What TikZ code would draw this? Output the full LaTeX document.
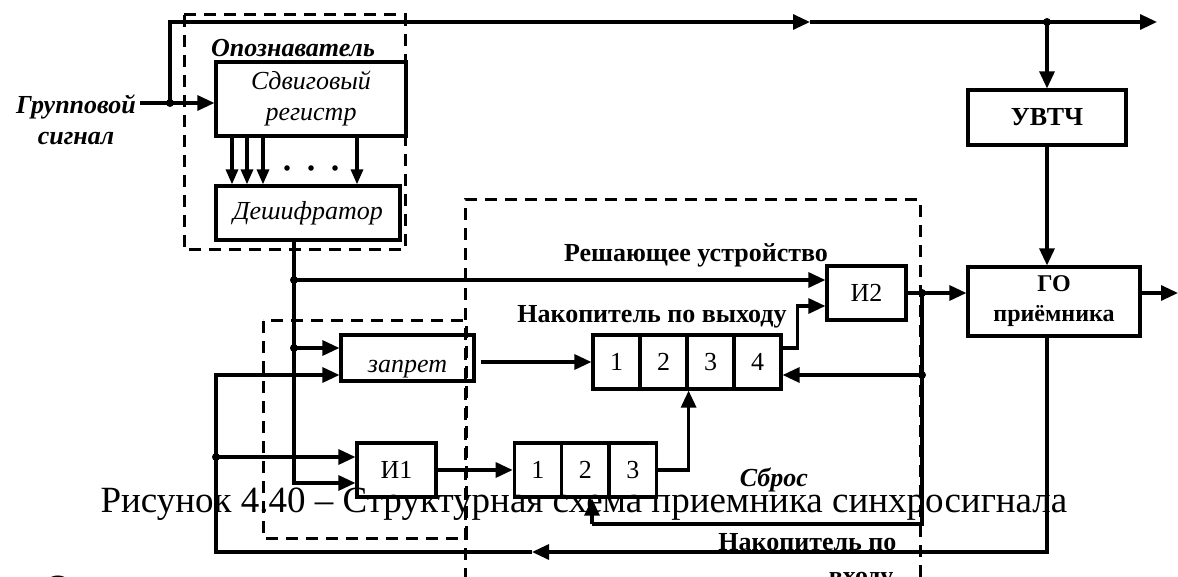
\documentclass[tikz,border=0pt]{standalone}
\usepackage{fontspec}
\setmainfont{Liberation Serif}
\usetikzlibrary{positioning, arrows.meta, calc}

\newcommand{\bsize}{\fontsize{26}{31}\selectfont}

\begin{document}
\begin{tikzpicture}[x=1pt, y=-1pt, line width=3.2pt,
    >={Triangle[length=17pt,width=15pt]},
    blk/.style={draw, inner sep=0pt, align=center, font=\bsize},
    cell/.style={blk, minimum width=47pt, minimum height=54pt},
    lbl/.style={inner sep=0pt, anchor=base, font=\bsize\bfseries},
    dashbox/.style={line width=3pt, dash pattern=on 12pt off 8pt}]

    \useasboundingbox (0,0) rectangle (1178,577);

    % ---------- caption ----------
    \node[inner sep=0pt, anchor=base, font=\fontsize{37}{44}\selectfont] (cap) at (584,512)
      {Рисунок 4.40 – Структурная схема приемника синхросигнала};
    \node[inner sep=0pt, anchor=base, font=\fontsize{37}{44}\selectfont] (nxt) at (58,600) {О};

    % ---------- blocks ----------
    \node[blk, minimum width=190pt, minimum height=74pt, font=\bsize\itshape] (reg) at (311,99)
      {Сдвиговый\\регистр};
    \node[blk, minimum width=184pt, minimum height=54pt, font=\bsize\itshape] (dec) at (308,213)
      {Дешифратор};
    \node[blk, minimum width=133pt, minimum height=46pt, font=\bsize\itshape,
          text height=37pt, text depth=9pt] (zap) at (407.5,358) {запрет};
    \node[blk, minimum width=79pt, minimum height=54pt] (i1) at (396.5,470) {И1};
    \node[blk, minimum width=79pt, minimum height=54pt] (i2) at (866.5,293) {И2};
    \node[blk, minimum width=158pt, minimum height=55pt, font=\bsize\bfseries] (uvtch) at (1047,117.5)
      {УВТЧ};
    \node[blk, minimum width=172pt, minimum height=69pt, font=\fontsize{24}{30}\selectfont\bfseries]
      (go) at (1054,301.5) {ГО\\приёмника};

    % ---------- shift registers (accumulators) ----------
    \foreach \i/\cx in {1/616.5,2/663.5,3/710.5,4/757.5}
      \node[cell] (out\i) at (\cx,362) {\i};
    \foreach \i/\cx in {1/537.75,2/585.25,3/632.75}
      \node[cell] (in\i) at (\cx,470) {\i};

    % ---------- labels ----------
    \node[lbl, font=\bsize\bfseries\itshape, align=center, anchor=north] (grp) at (76,93)
      {Групповой\\сигнал};
    \node[lbl, font=\bsize\bfseries\itshape] (opz) at (293,57) {Опознаватель};
    \node[lbl] (rsh) at (696,262) {Решающее устройство};
    \node[lbl] (nvy) at (652,323) {Накопитель по выходу};
    \node[lbl, font=\bsize\bfseries\itshape] (sbr) at (774,486) {Сброс};
    \node[lbl, anchor=base east] (nvh) at (898,550) {Накопитель по};
    \node[lbl, anchor=base east] (nvh2) at (895,584) {входу};

    % ---------- key points ----------
    \coordinate (gin) at (140,103);
    \coordinate (tap) at (170,103);
    \coordinate (mid) at (810,22);
    \coordinate (br) at (1047,22);
    \coordinate (bend) at (1157,22);
    \coordinate (d1) at (294,280);
    \coordinate (d2) at (294,348);
    \coordinate (lb) at (216,457);
    \coordinate (lc) at (216,552);
    \coordinate (ret) at (532,552);
    \coordinate (r1) at (922,293);
    \coordinate (r2) at (922,375);
    \coordinate (sb) at (592,524);
    \coordinate (gout) at (1178,293);

    % ---------- input and top bus ----------
    \draw[->] (gin) -- (gin -| reg.west);
    \draw[->] (tap) |- (mid);
    \draw[->] (mid) -- (bend);
    \draw[->] (br) -- (uvtch.north);
    \draw[->] (uvtch.south) -- (uvtch.south |- go.north);

    % ---------- register -> decoder ----------
    \foreach \x in {232,247,263,357}
      \draw[->, >={Triangle[length=15pt,width=12pt]}] (\x,0 |- reg.south) -- (\x,0 |- dec.north);
    \foreach \x in {287,311,335}
      \fill (\x,168) circle (2.8pt);

    % ---------- decoder output ----------
    \draw[->] (dec.south -| d1) |- ([yshift=-13pt]i1.west);
    \draw[->] (d1) -- (d1 -| i2.west);
    \draw[->] (d2) -- (d2 -| zap.west);

    % ---------- feedback from receiver ----------
    \draw[->] (go.south -| br) |- (ret);
    \draw[->] (ret) -- (lc) |- ([yshift=-17pt]zap.west);
    \draw[->] (lb) -- (lb -| i1.west);

    % ---------- accumulators ----------
    \draw[->] (i1.east) -- (in1.west);
    \draw[->] ([xshift=5pt]zap.east |- out1.west) -- (out1.west);
    \draw[->] (in3.east) -| (out2.south east);
    \draw[->] ([yshift=14pt]out4.east) -- ++(15,0) |- ([yshift=-13pt]i2.west);

    % ---------- decision output ----------
    \draw[->] (i2.east) -- (i2.east -| go.west);
    \draw (r1) |- (sb);
    \draw[->] (sb) -- (sb |- in2.south);
    \draw[->] (r2) -- (r2 -| out4.east);
    \draw[->] (go.east |- r1) -- (gout);

    % ---------- junctions ----------
    \foreach \p in {tap,br,d1,d2,lb,r1,r2}
      \fill (\p) circle (4pt);

    % ---------- dashed groups ----------
    \draw[dashbox] (184,15) rectangle (405,250);
    \draw[dashbox] (263,321) rectangle (466,538);
    \draw[dashbox] (465,600) -- (465,200) -- (920,200) -- (920,600);

\end{tikzpicture}
\end{document}
